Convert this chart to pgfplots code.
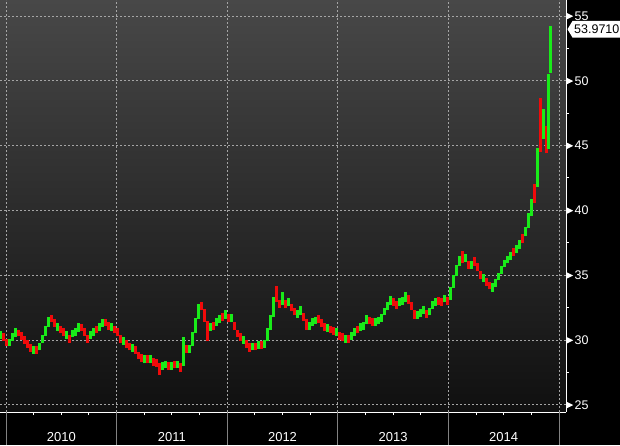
\documentclass[border=0pt]{standalone}
\usepackage{pgfplots}
\pgfplotsset{compat=1.18}
\usepackage{pgfplotstable}
\usepackage{fontspec}
\setmainfont{Liberation Sans}
\definecolor{cgreen}{RGB}{25,235,25}
\definecolor{cred}{RGB}{240,10,10}
\definecolor{bgtop}{RGB}{72,72,72}
\definecolor{bgbot}{RGB}{16,16,16}
\definecolor{gridc}{RGB}{165,165,165}
\definecolor{sepc}{RGB}{130,130,130}
\pgfplotstableread{
x lo hi g
0 30.1 30.7 1
3 29.9 30.5 0
6 29.5 30.1 0
9 29.5 30.1 1
12 29.9 30.5 1
15 30.2 30.9 1
18 30.3 30.8 0
21 30.0 30.6 0
24 29.7 30.3 0
27 29.4 30.0 0
30 29.1 29.7 0
33 28.9 29.5 1
36 28.9 29.5 0
39 29.2 29.8 1
42 29.8 30.4 1
45 30.3 31.1 1
48 31.0 31.8 1
51 31.4 31.9 0
54 31.0 31.6 0
57 30.7 31.3 1
60 30.5 31.1 0
63 30.3 30.9 0
66 30.1 30.7 1
69 29.8 30.4 0
72 30.2 30.8 1
75 30.3 30.9 1
78 30.6 31.3 1
81 30.7 31.2 0
84 30.3 30.9 0
87 29.8 30.4 0
90 30.1 30.7 1
93 30.3 30.9 1
96 30.5 31.1 0
99 30.7 31.3 1
102 31.0 31.6 1
105 31.1 31.6 0
108 30.8 31.4 0
111 30.7 31.3 1
114 30.5 31.1 0
117 30.3 30.9 0
120 29.8 30.4 0
123 29.6 30.2 1
126 29.4 30.0 0
129 29.2 29.8 0
132 29.1 29.7 1
135 28.9 29.5 0
138 28.5 29.1 0
141 28.3 28.9 0
144 28.2 28.8 1
147 28.2 28.8 0
150 28.2 28.8 1
153 28.0 28.6 0
156 27.9 28.5 0
159 27.3 28.2 0
162 27.7 28.3 1
165 27.8 28.4 1
168 27.7 28.3 0
171 27.7 28.3 1
174 27.8 28.4 0
177 27.8 28.4 1
180 27.5 28.2 0
183 28.0 30.2 1
186 29.0 29.6 0
189 29.0 29.6 1
192 29.5 30.6 1
195 30.5 31.7 1
198 31.6 32.8 1
201 32.3 32.95 0
204 31.4 32.4 0
207 29.9 31.5 0
210 30.7 31.3 1
213 30.8 31.4 0
216 31.1 31.7 1
219 31.3 31.9 1
222 31.5 32.1 0
225 31.6 32.3 1
228 31.4 32.0 0
231 31.4 32.0 1
234 30.8 31.4 0
237 30.2 30.8 0
240 29.9 30.5 0
243 29.7 30.3 1
246 29.4 30.0 0
249 29.1 29.8 0
252 29.2 29.8 1
255 29.2 29.8 0
258 29.3 29.9 1
261 29.3 29.9 0
264 29.4 30.0 1
267 29.9 30.9 1
270 30.8 31.9 1
273 31.8 33.3 1
276 32.9 34.2 0
279 32.5 33.1 0
282 32.7 33.7 1
285 32.5 33.1 0
288 32.6 33.2 1
291 32.2 32.8 0
294 31.9 32.5 0
297 31.7 32.3 1
300 31.9 32.6 1
303 31.5 32.1 0
306 30.8 31.6 0
309 30.8 31.4 1
312 31.1 31.7 1
315 31.2 31.8 1
318 31.3 31.9 0
321 31.0 31.6 0
324 30.7 31.3 0
327 30.6 31.2 1
330 30.5 31.1 0
333 30.4 31.0 0
336 30.3 30.9 1
339 30.0 30.6 0
342 29.9 30.5 0
345 29.8 30.4 1
348 29.8 30.4 0
351 30.0 30.6 1
354 30.3 30.9 1
357 30.5 31.1 0
360 30.7 31.3 1
363 30.8 31.4 1
366 31.2 31.9 1
369 31.2 31.8 0
372 31.1 31.7 0
375 31.1 31.7 1
378 31.2 31.8 1
381 31.4 32.0 1
384 31.9 32.5 1
387 32.3 32.9 1
390 32.7 33.4 1
393 32.6 33.2 0
396 32.4 33.0 0
399 32.6 33.2 1
402 32.7 33.3 1
405 32.9 33.7 1
408 32.8 33.5 0
411 32.3 32.9 0
414 31.6 32.3 0
417 31.6 32.2 1
420 31.8 32.4 1
423 32.0 32.6 1
426 31.7 32.3 0
429 31.9 32.5 1
432 32.4 33.0 1
435 32.6 33.2 1
438 32.7 33.3 0
441 32.6 33.2 0
444 32.9 33.5 1
447 32.7 33.3 0
450 33.1 34.1 1
453 34.0 35.0 1
456 34.9 35.8 1
459 35.7 36.5 1
462 35.9 36.9 0
465 36.0 36.6 1
468 35.5 36.1 0
471 35.5 36.1 1
474 35.7 36.4 0
477 35.3 35.9 0
480 34.7 35.3 0
483 34.5 35.1 1
486 34.2 34.8 0
489 33.9 34.5 0
492 33.7 34.4 1
495 34.1 34.7 1
498 34.6 35.2 1
501 35.1 35.7 1
504 35.6 36.2 1
507 35.9 36.5 1
510 36.2 36.8 1
513 36.5 37.1 0
516 36.7 37.3 1
519 37.0 37.7 1
522 37.5 38.2 0
525 38.0 38.7 1
528 38.6 39.8 1
531 39.6 40.9 1
534 40.6 42.0 0
537 41.8 44.8 1
540 44.5 48.7 0
543 45.5 47.8 1
546 44.4 46.5 0
548 44.7 50.5 1
550.5 50.6 54.2 1
}\ohlc
\begin{document}
\begin{tikzpicture}[x=1pt,y=1pt]
\fill[black] (0,-33) rectangle (620,412);
\begin{axis}[
  at={(0,0)}, anchor=south west,
  scale only axis, width=566pt, height=412pt,
  xmin=0, xmax=566, ymin=24.44, ymax=56.23,
  axis x line*=bottom, axis y line*=right,
  axis line style={white, line width=1pt},
  axis background/.style={top color=bgtop, bottom color=bgbot},
  grid=major,
  major grid style={gridc, line width=0.8pt, dash pattern=on 2pt off 2pt},
  tick align=outside,
  major tick length=0pt, minor tick length=3pt,
  minor tick style={white, line width=1pt},
  xtick={6,116.6,227.2,337.8,448.4,559},
  xticklabels={,,,,,},
  minor xtick={33.65,61.3,88.95,144.25,171.9,199.55,254.85,282.5,310.15,365.45,393.1,420.75,476.05,503.7,531.35},
  extra x ticks={61.3,171.9,282.5,393.1,503.7},
  extra x tick labels={2010,2011,2012,2013,2014},
  extra x tick style={grid=none, major tick length=0pt,
    xticklabel style={anchor=base, yshift=-29pt, text=white, font=\fontsize{13}{15}\selectfont}},
  ytick={25,30,35,40,45,50,55},
  minor ytick={27.5,32.5,37.5,42.5,47.5,52.5},
  yticklabel={\tikz[baseline=-0.6ex]\fill[white] (0pt,-3pt)--(6pt,0pt)--(0pt,3pt)--cycle;\hspace{1.5pt}\pgfmathprintnumber{\tick}},
  yticklabel style={anchor=west, inner sep=0pt, xshift=1pt, text=white, font=\fontsize{12.5}{14}\selectfont},
  /pgf/number format/assume math mode=true,
]
\addplot[cred, mark=none, forget plot,
  restrict y to domain=0:80,
  quiver={u=0, v=\thisrow{hi}-\thisrow{lo},
    every arrow/.append style={line width=3pt, draw=cred}}]
  table[x=x, y expr={\thisrow{lo}+100*\thisrow{g}}] {\ohlc};
\addplot[cgreen, mark=none, forget plot,
  restrict y to domain=0:80,
  quiver={u=0, v=\thisrow{hi}-\thisrow{lo},
    every arrow/.append style={line width=3pt, draw=cgreen}}]
  table[x=x, y expr={\thisrow{lo}+100*(1-\thisrow{g})}] {\ohlc};
\coordinate (lab) at (axis cs:566,53.971);
\coordinate (yb0) at (axis cs:6,24.44);
\coordinate (yb1) at (axis cs:116.6,24.44);
\coordinate (yb2) at (axis cs:227.2,24.44);
\coordinate (yb3) at (axis cs:337.8,24.44);
\coordinate (yb4) at (axis cs:448.4,24.44);
\coordinate (yb5) at (axis cs:559,24.44);
\end{axis}
\foreach \i in {0,...,5}{
  \draw[sepc, line width=0.8pt] (yb\i) -- ([yshift=-33pt]yb\i);
}
\fill[white] ([xshift=1.5pt]lab) -- ([xshift=6.5pt,yshift=8.3pt]lab) -- ([xshift=60pt,yshift=8.3pt]lab) -- ([xshift=60pt,yshift=-8.3pt]lab) -- ([xshift=6.5pt,yshift=-8.3pt]lab) -- cycle;
\node[anchor=west, inner sep=0pt, text=black, font=\fontsize{12.5}{14}\selectfont] at ([xshift=8pt]lab) {53.9710};
\pgfresetboundingbox
\path (0,-33) rectangle (620,412);
\end{tikzpicture}
\end{document}
